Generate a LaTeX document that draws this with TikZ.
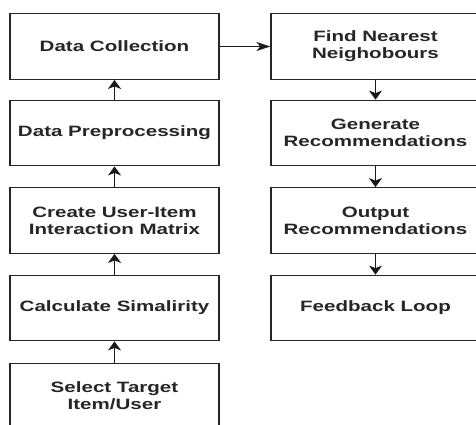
\documentclass[tikz,border=0pt]{standalone}
\usepackage{fontspec}
\setmainfont{Liberation Sans}[FakeStretch=1.37]
\usetikzlibrary{arrows.meta}
\tikzset{
  box/.style={draw=black!85, line width=1.3pt, minimum width=209pt, minimum height=65.5pt,
    inner sep=0pt, align=center, font=\fontsize{15pt}{17pt}\selectfont\bfseries, text=black!85},
  uparr/.style={draw=black!90, line width=1.4pt, -{Stealth[length=9pt,width=13pt,inset=2.5pt]}},
  harr/.style={draw=black!90, line width=1.4pt, -{Stealth[length=14pt,width=9pt,inset=4pt]}}
}
\begin{document}
\begin{tikzpicture}[x=1pt,y=-1pt]
\useasboundingbox (0,0) rectangle (476,424);
\clip (0,0) rectangle (476,424);
\fill[white] (0,0) rectangle (476,424);
\node[box] (dc) at (114.5,46.5) {Data Collection};
\node[box] (dp) at (114.5,133) {Data Preprocessing};
\node[box] (cm) at (114.5,220.5) {Create User-Item\\Interaction Matrix};
\node[box] (cs) at (114.5,308) {Calculate Simalirity};
\node[box] (st) at (114.5,396) {Select Target\\Item/User};
\node[box] (fn) at (375.5,46.5) {Find Nearest\\Neighobours};
\node[box] (gr) at (375.5,133) {Generate\\Recommendations};
\node[box] (orr) at (375.5,220.5) {Output\\Recommendations};
\node[box] (fl) at (375.5,308) {Feedback Loop};
\draw[uparr] (st) -- (cs);
\draw[uparr] (cs) -- (cm);
\draw[uparr] (cm) -- (dp);
\draw[uparr] (dp) -- (dc);
\draw[harr] (dc) -- (fn);
\draw[uparr] (fn) -- (gr);
\draw[uparr] (gr) -- (orr);
\draw[uparr] (orr) -- (fl);
\end{tikzpicture}
\end{document}
